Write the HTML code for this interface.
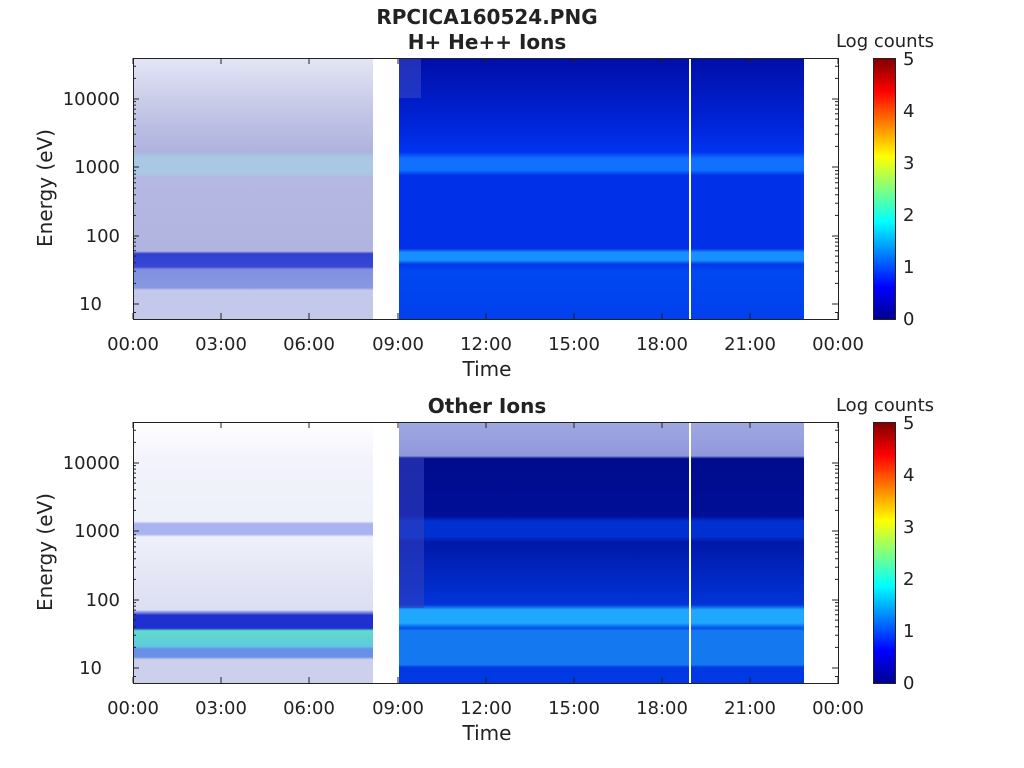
<!DOCTYPE html>
<html><head><style>body{margin:0;background:#fff}svg{display:block}text{font-family:"DejaVu Sans","Liberation Sans",sans-serif;fill:#222}</style></head>
<body>
<svg width="1024" height="768" viewBox="0 0 1024 768">
<defs>
<linearGradient id="tl" x1="0" y1="0" x2="0" y2="1">
<stop offset="0" stop-color="#e4e6f6"/><stop offset="0.2" stop-color="#c4c7e6"/><stop offset="0.36" stop-color="#aeb2de"/>
<stop offset="0.38" stop-color="#a8c8e4"/><stop offset="0.44" stop-color="#a8c8e4"/><stop offset="0.46" stop-color="#b4b8e2"/>
<stop offset="0.74" stop-color="#b0b4e0"/><stop offset="0.75" stop-color="#3040d0"/><stop offset="0.8" stop-color="#3848d4"/>
<stop offset="0.81" stop-color="#8090e0"/><stop offset="0.88" stop-color="#8898e2"/><stop offset="0.89" stop-color="#c4c8ea"/><stop offset="1" stop-color="#c4c8ea"/>
</linearGradient>
<linearGradient id="tr" x1="0" y1="0" x2="0" y2="1">
<stop offset="0" stop-color="#000ea8"/><stop offset="0.25" stop-color="#0024d8"/><stop offset="0.36" stop-color="#0034f0"/>
<stop offset="0.385" stop-color="#1070ff"/><stop offset="0.43" stop-color="#1070ff"/><stop offset="0.45" stop-color="#0030e8"/>
<stop offset="0.73" stop-color="#0030e8"/><stop offset="0.745" stop-color="#1890ff"/><stop offset="0.775" stop-color="#1890ff"/>
<stop offset="0.79" stop-color="#0038ec"/><stop offset="0.82" stop-color="#0048f0"/><stop offset="1" stop-color="#0040ee"/>
</linearGradient>
<linearGradient id="bl" x1="0" y1="0" x2="0" y2="1">
<stop offset="0" stop-color="#ffffff"/><stop offset="0.15" stop-color="#f2f3fb"/><stop offset="0.38" stop-color="#eef0fa"/>
<stop offset="0.39" stop-color="#a8b4f0"/><stop offset="0.43" stop-color="#a8b4f0"/><stop offset="0.44" stop-color="#eef0fa"/>
<stop offset="0.72" stop-color="#dcdef2"/><stop offset="0.74" stop-color="#2030d0"/><stop offset="0.79" stop-color="#2030d0"/>
<stop offset="0.8" stop-color="#60dcc8"/><stop offset="0.86" stop-color="#60c8e0"/><stop offset="0.87" stop-color="#6890e8"/>
<stop offset="0.9" stop-color="#6890e8"/><stop offset="0.91" stop-color="#ccd0ec"/><stop offset="1" stop-color="#ccd0ec"/>
</linearGradient>
<linearGradient id="br" x1="0" y1="0" x2="0" y2="1">
<stop offset="0" stop-color="#a0a8e2"/><stop offset="0.13" stop-color="#9098dc"/><stop offset="0.14" stop-color="#000c8c"/>
<stop offset="0.36" stop-color="#000e98"/><stop offset="0.38" stop-color="#0030d0"/><stop offset="0.44" stop-color="#0030d0"/>
<stop offset="0.46" stop-color="#0018a8"/><stop offset="0.7" stop-color="#0034d8"/><stop offset="0.72" stop-color="#20a8ff"/>
<stop offset="0.77" stop-color="#20a8ff"/><stop offset="0.79" stop-color="#0050ec"/><stop offset="0.8" stop-color="#1478f0"/><stop offset="0.93" stop-color="#1478f0"/>
<stop offset="0.94" stop-color="#0038e4"/><stop offset="1" stop-color="#0038e4"/>
</linearGradient>
<linearGradient id="jet" x1="0" y1="1" x2="0" y2="0">
<stop offset="0" stop-color="#00008f"/><stop offset="0.125" stop-color="#0000ff"/><stop offset="0.375" stop-color="#00ffff"/>
<stop offset="0.625" stop-color="#ffff00"/><stop offset="0.875" stop-color="#ff0000"/><stop offset="1" stop-color="#800000"/>
</linearGradient>
<g id="yt" stroke="#222" stroke-width="1">
<path d="M133,304h6M133,236h6M133,167h6M133,99h6M838,304h-6M838,236h-6M838,167h-6M838,99h-6"/>
<path d="M133,283.4h3M133,271.3h3M133,262.8h3M133,256.1h3M133,250.7h3M133,246.1h3M133,242.1h3M133,238.6h3M133,215.4h3M133,203.3h3M133,194.8h3M133,188.1h3M133,182.7h3M133,178.1h3M133,174.1h3M133,170.6h3M133,146.4h3M133,134.3h3M133,125.8h3M133,119.1h3M133,113.7h3M133,109.1h3M133,105.1h3M133,101.6h3M133,78.4h3M133,66.3h3M133,312.5h3 M838,283.4h-3M838,271.3h-3M838,262.8h-3M838,256.1h-3M838,250.7h-3M838,246.1h-3M838,242.1h-3M838,238.6h-3M838,215.4h-3M838,203.3h-3M838,194.8h-3M838,188.1h-3M838,182.7h-3M838,178.1h-3M838,174.1h-3M838,170.6h-3M838,146.4h-3M838,134.3h-3M838,125.8h-3M838,119.1h-3M838,113.7h-3M838,109.1h-3M838,105.1h-3M838,101.6h-3M838,78.4h-3M838,66.3h-3M838,312.5h-3"/>
<path d="M133,319v-6M221,319v-6M309,319v-6M398,319v-6M486,319v-6M574,319v-6M662,319v-6M750,319v-6M838,319v-6M133,58v6M221,58v6M309,58v6M398,58v6M486,58v6M574,58v6M662,58v6M750,58v6M838,58v6"/>
<path d="M896,304h-4M896,236h-4M896,167h-4M896,99h-4M873,304h4M873,236h4M873,167h4M873,99h4"/>
</g>
</defs>

<text x="487" y="24" font-size="20" font-weight="bold" text-anchor="middle">RPCICA160524.PNG</text>
<text x="487" y="49" font-size="20" font-weight="bold" text-anchor="middle">H+ He++ Ions</text>
<text x="487" y="413" font-size="20" font-weight="bold" text-anchor="middle">Other Ions</text>

<rect x="133" y="58" width="240" height="261" fill="url(#tl)"/>
<rect x="399" y="58" width="405" height="261" fill="url(#tr)"/>
<rect x="399" y="58" width="22" height="40" fill="#4050c8" opacity="0.5"/>
<rect x="689" y="58" width="2" height="261" fill="#fff"/>
<rect x="133" y="422" width="240" height="261" fill="url(#bl)"/>
<rect x="399" y="422" width="405" height="261" fill="url(#br)"/>
<rect x="399" y="458" width="25" height="150" fill="#3040c0" opacity="0.6"/>
<rect x="689" y="422" width="2" height="261" fill="#fff"/>

<g>
<rect x="133.5" y="58.5" width="705" height="261" fill="none" stroke="#222"/>
<use href="#yt"/>
<rect x="873.5" y="58.5" width="22" height="261" fill="url(#jet)" stroke="#222"/>
</g>
<g transform="translate(0,364)">
<rect x="133.5" y="58.5" width="705" height="261" fill="none" stroke="#222"/>
<use href="#yt"/>
<rect x="873.5" y="58.5" width="22" height="261" fill="url(#jet)" stroke="#222"/>
</g>

<g font-size="18">
<g text-anchor="end">
<text x="102" y="310">10</text><text x="120" y="242">100</text><text x="120" y="173">1000</text><text x="120" y="105">10000</text>
<text x="102" y="674">10</text><text x="120" y="606">100</text><text x="120" y="537">1000</text><text x="120" y="469">10000</text>
</g>
<g text-anchor="middle">
<text x="133" y="350">00:00</text><text x="221" y="350">03:00</text><text x="309" y="350">06:00</text><text x="398" y="350">09:00</text><text x="486" y="350">12:00</text><text x="574" y="350">15:00</text><text x="662" y="350">18:00</text><text x="750" y="350">21:00</text><text x="838" y="350">00:00</text>
<text x="133" y="714">00:00</text><text x="221" y="714">03:00</text><text x="309" y="714">06:00</text><text x="398" y="714">09:00</text><text x="486" y="714">12:00</text><text x="574" y="714">15:00</text><text x="662" y="714">18:00</text><text x="750" y="714">21:00</text><text x="838" y="714">00:00</text>
</g>
<g>
<text x="903" y="325">0</text><text x="903" y="273">1</text><text x="903" y="221">2</text><text x="903" y="169">3</text><text x="903" y="117">4</text><text x="903" y="65">5</text>
<text x="903" y="689">0</text><text x="903" y="637">1</text><text x="903" y="585">2</text><text x="903" y="533">3</text><text x="903" y="481">4</text><text x="903" y="429">5</text>
</g>
<text x="885" y="47" text-anchor="middle">Log counts</text>
<text x="885" y="411" text-anchor="middle">Log counts</text>
</g>
<g font-size="20" text-anchor="middle">
<text x="487" y="376">Time</text><text x="487" y="740">Time</text>
<text transform="translate(52,188) rotate(-90)">Energy (eV)</text>
<text transform="translate(52,552) rotate(-90)">Energy (eV)</text>
</g>
</svg>
</body></html>
